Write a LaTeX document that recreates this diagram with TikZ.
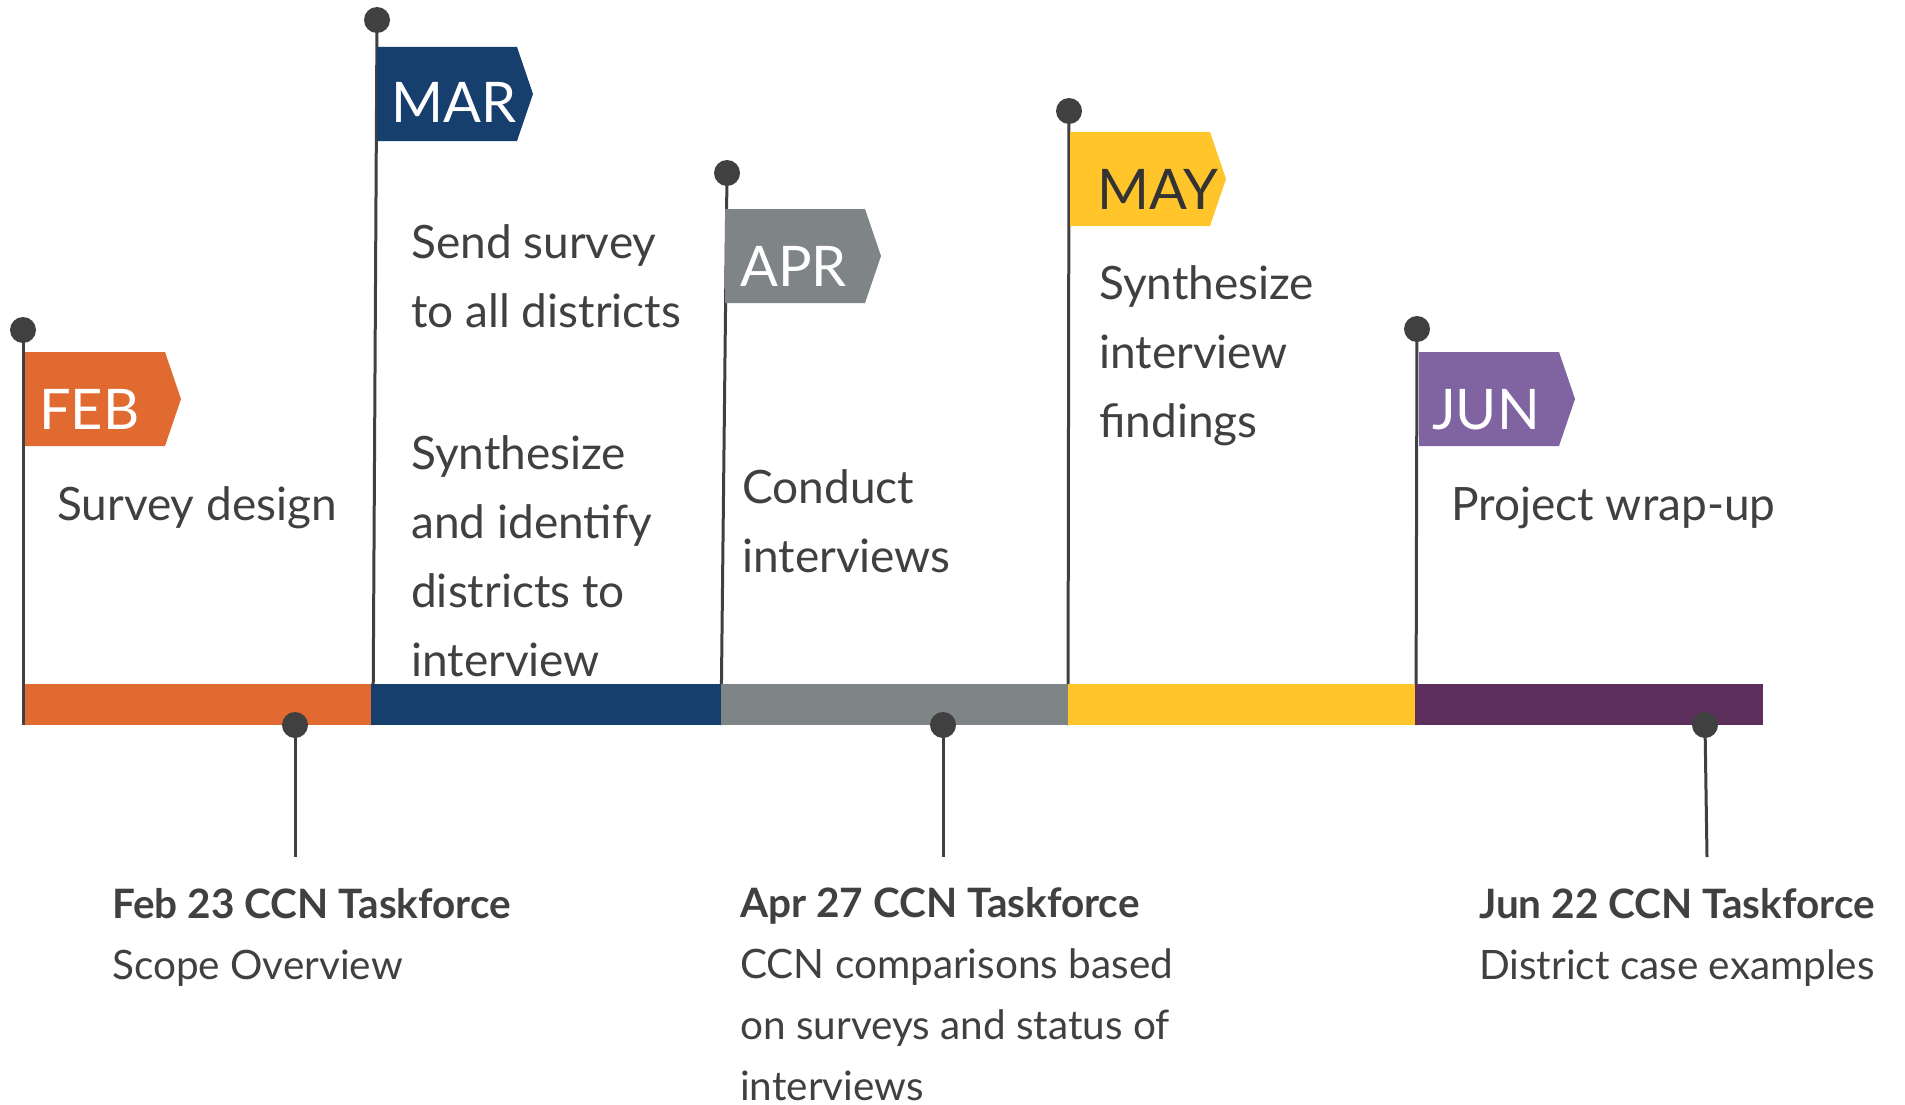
\documentclass[tikz,border=0pt]{standalone}
\usepackage{fontspec}
\setmainfont{Lato}
\definecolor{cfeb}{HTML}{E06A2F}
\definecolor{cmar}{HTML}{173F6E}
\definecolor{capr}{HTML}{7F8487}
\definecolor{cmay}{HTML}{FFC52B}
\definecolor{cjunbar}{HTML}{5C2F5D}
\definecolor{cjun}{HTML}{8064A1}
\definecolor{ink}{HTML}{404040}
\tikzset{
  pinhead/.style={circle,fill=ink,inner sep=0pt,minimum size=26pt},
  pinline/.style={draw=ink,line width=3pt},
  month/.style={anchor=base west,inner sep=0pt,text=white,font=\fontsize{56}{56}\selectfont},
  body/.style={anchor=base west,inner sep=0pt,text=ink,align=left,font=\fontsize{46}{69}\selectfont},
  note/.style={anchor=base west,inner sep=0pt,text=ink,align=left,font=\fontsize{40.5}{61}\selectfont},
}
\newcommand{\flagshape}[3]{% x, top, color
  \fill[#3] (#1,#2) -- ++(140,0) -- ++(16,47) -- ++(-16,47) -- ++(-140,0) -- cycle;
}
\begin{document}
\begin{tikzpicture}[x=1pt,y=-1pt]
\useasboundingbox (0,0) rectangle (1905,1105);
% pin heads and bar anchors
\node[pinhead] (pfeb) at (23,330) {};
\node[pinhead] (pmar) at (377,20) {};
\node[pinhead] (papr) at (727,173) {};
\node[pinhead] (pmay) at (1069,111) {};
\node[pinhead] (pjun) at (1417,329) {};
\coordinate (bfeb) at (23,725);
\coordinate (bmar) at (373,725);
\coordinate (bapr) at (721,725);
\coordinate (bmay) at (1068,725);
\coordinate (bjun) at (1416,725);
\draw[pinline] (pfeb.center) -- (bfeb);
\draw[pinline] (pmar.center) -- (bmar);
\draw[pinline] (papr.center) -- (bapr);
\draw[pinline] (pmay.center) -- (bmay);
\draw[pinline] (pjun.center) -- (bjun);
% bar
\fill[cfeb] (25,684) rectangle (371,725);
\fill[cmar] (371,684) rectangle (721,725);
\fill[capr] (721,684) rectangle (1068,725);
\fill[cmay] (1068,684) rectangle (1415,725);
\fill[cjunbar] (1415,684) rectangle (1763,725);
% flags
\flagshape{25}{352}{cfeb}
\flagshape{377}{47}{cmar}
\flagshape{725}{209}{capr}
\flagshape{1070}{132}{cmay}
\flagshape{1419}{352}{cjun}
\node[month] (lfeb) at (39,429) {FEB};
\node[month] (lmar) at (391,123) {MAR};
\node[month] (lapr) at (740,286) {APR};
\node[month,text=ink!80!black] (lmay) at (1097,209) {MAY};
\node[month] (ljun) at (1432,429) {JUN};
% body texts (anchor = baseline of last line)
\node[body] (tfeb) at (57,520) {Survey design};
\node[body] (tmar1) at (411,327) {Send survey\\to all districts};
\node[body] (tmar2) at (411,676) {Synthesize\\and identify\\districts to\\interview};
\node[body] (tapr) at (742,572) {Conduct\\interviews};
\node[body] (tmay) at (1099,437) {Synthesize\\interview\\findings};
\node[body] (tjun) at (1451,520) {Project wrap-up};
% bottom pins
\node[pinhead] (qfeb) at (295,725) {};
\node[pinhead] (qapr) at (943,725) {};
\node[pinhead] (qjun) at (1705,725) {};
\coordinate (efeb) at (295,857);
\coordinate (eapr) at (943,857);
\coordinate (ejun) at (1707,857);
\draw[pinline] (qfeb.center) -- (efeb);
\draw[pinline] (qapr.center) -- (eapr);
\draw[pinline] (qjun.center) -- (ejun);
\node[note] (nfeb) at (112,979) {\textbf{Feb 23 CCN Taskforce}\\Scope Overview};
\node[note] (napr) at (740,1100) {\textbf{Apr 27 CCN Taskforce}\\CCN comparisons based\\on surveys and status of\\interviews};
\node[note] (njun) at (1479,979) {\textbf{Jun 22 CCN Taskforce}\\District case examples};
\end{tikzpicture}
\end{document}
